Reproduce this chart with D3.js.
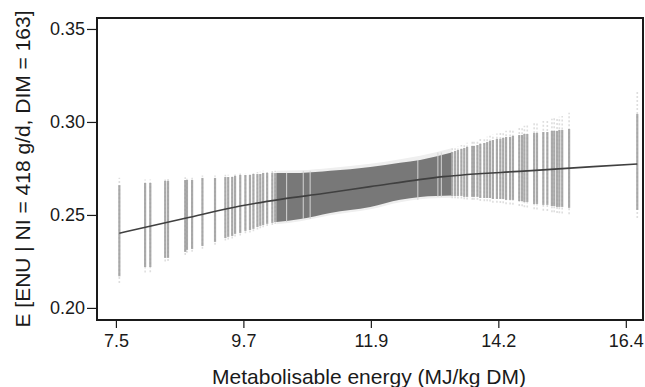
<!DOCTYPE html>
<html>
<head>
<meta charset="utf-8">
<script src="https://cdn.jsdelivr.net/npm/d3@7"></script>
<style>
  html, body { margin: 0; padding: 0; background: #fff; }
  svg { display: block; }
  text { font-family: "Liberation Sans", Arial, Helvetica, sans-serif; fill: #1a1a1a; }
</style>
</head>
<body>
<svg id="chart" width="645" height="387"></svg>
<script>
// ---- data ----
const xTickValues = [7.5, 9.725, 11.95, 14.175, 16.4];
const xTickLabels = ["7.5", "9.7", "11.9", "14.2", "16.4"];
const yTickValues = [0.20, 0.25, 0.30, 0.35];
const yTickLabels = ["0.20", "0.25", "0.30", "0.35"];

// individual interval bars: metabolisable energy, lower E, upper E (solid part)
const barME = [7.56, 8.01, 8.10, 8.36, 8.41, 8.71, 8.74, 8.83, 9.01, 9.23, 9.41, 9.46, 9.53, 9.58,
  9.67, 9.76, 9.84, 9.90, 9.97, 10.02, 10.07, 10.14, 10.23, 10.28,
  13.37, 13.42, 13.47, 13.53, 13.58, 13.63, 13.72, 13.75, 13.81, 13.86, 13.93, 13.98, 14.03,
  14.08, 14.15, 14.21, 14.26, 14.31, 14.38, 14.43, 14.54, 14.59, 14.63, 14.68, 14.80, 14.85,
  14.96, 15.03, 15.11, 15.15, 15.20, 15.24, 15.29, 15.41, 16.60];
const barLo = [0.2170, 0.2220, 0.2220, 0.2269, 0.2269, 0.2301, 0.2312, 0.2317, 0.2333, 0.2355, 0.2376, 0.2382, 0.2387, 0.2398,
  0.2403, 0.2414, 0.2419, 0.2425, 0.2435, 0.2441, 0.2446, 0.2452, 0.2457, 0.2462,
  0.2602, 0.2602, 0.2602, 0.2602, 0.2597, 0.2597, 0.2597, 0.2597, 0.2597, 0.2591, 0.2591, 0.2591, 0.2591,
  0.2586, 0.2586, 0.2586, 0.2586, 0.2581, 0.2581, 0.2581, 0.2575, 0.2575, 0.2570, 0.2570, 0.2559, 0.2559,
  0.2554, 0.2554, 0.2548, 0.2548, 0.2543, 0.2543, 0.2543, 0.2538, 0.2527];
const barHi = [0.2660, 0.2672, 0.2672, 0.2683, 0.2683, 0.2688, 0.2688, 0.2688, 0.2699, 0.2699, 0.2704, 0.2704, 0.2704, 0.2710,
  0.2715, 0.2715, 0.2715, 0.2720, 0.2720, 0.2720, 0.2726, 0.2726, 0.2726, 0.2726,
  0.2839, 0.2844, 0.2849, 0.2855, 0.2860, 0.2866, 0.2871, 0.2871, 0.2876, 0.2882, 0.2887, 0.2892, 0.2898,
  0.2903, 0.2909, 0.2909, 0.2914, 0.2919, 0.2919, 0.2925, 0.2930, 0.2930, 0.2935, 0.2935, 0.2941, 0.2941,
  0.2946, 0.2946, 0.2952, 0.2952, 0.2952, 0.2957, 0.2957, 0.2962, 0.3043];
// faint outer tails of the same bars
const barOuterLo = [0.2134, 0.2190, 0.2192, 0.2250, 0.2252, 0.2285, 0.2296, 0.2302, 0.2318, 0.2340, 0.2362, 0.2368, 0.2373, 0.2384,
  0.2390, 0.2401, 0.2406, 0.2412, 0.2422, 0.2428, 0.2434, 0.2440, 0.2446, 0.2451,
  0.2590, 0.2590, 0.2589, 0.2589, 0.2584, 0.2583, 0.2582, 0.2582, 0.2581, 0.2575, 0.2574, 0.2573, 0.2572,
  0.2566, 0.2565, 0.2564, 0.2563, 0.2557, 0.2556, 0.2555, 0.2548, 0.2547, 0.2541, 0.2540, 0.2530, 0.2529,
  0.2522, 0.2521, 0.2515, 0.2514, 0.2510, 0.2509, 0.2508, 0.2503, 0.2484];
const barOuterHi = [0.2700, 0.2690, 0.2690, 0.2700, 0.2700, 0.2703, 0.2703, 0.2703, 0.2712, 0.2712, 0.2716, 0.2716, 0.2716, 0.2722,
  0.2726, 0.2726, 0.2727, 0.2731, 0.2731, 0.2732, 0.2737, 0.2737, 0.2738, 0.2738,
  0.2860, 0.2865, 0.2870, 0.2876, 0.2882, 0.2888, 0.2895, 0.2897, 0.2903, 0.2909, 0.2915, 0.2920, 0.2926,
  0.2932, 0.2938, 0.2941, 0.2947, 0.2953, 0.2956, 0.2962, 0.2972, 0.2975, 0.2980, 0.2983, 0.2993, 0.2997,
  0.3005, 0.3010, 0.3017, 0.3020, 0.3024, 0.3028, 0.3032, 0.3050, 0.3172];

// densely overlapping intervals (dark band) envelope
const bandME = [10.30, 10.72, 11.24, 11.94, 12.46, 12.81, 13.36];
const bandLo = [0.2462, 0.2478, 0.2511, 0.2543, 0.2581, 0.2597, 0.2605];
const bandHi = [0.2726, 0.2726, 0.2737, 0.2758, 0.2780, 0.2796, 0.2836];
const bandOuterLo = [0.2450, 0.2466, 0.2498, 0.2530, 0.2568, 0.2584, 0.2592];
const bandOuterHi = [0.2738, 0.2740, 0.2752, 0.2775, 0.2800, 0.2818, 0.2858];
// thin gaps between intervals inside the band
const gapME = [10.48, 10.77, 10.89, 12.77, 13.12, 13.18];

// posterior mean curve
const curveME = [7.56, 8.71, 9.67, 10.40, 11.12, 11.94, 13.21, 14.68, 15.83, 16.60];
const curveE  = [0.2402, 0.2482, 0.2548, 0.2585, 0.2615, 0.2652, 0.2706, 0.2737, 0.2760, 0.2774];

const xTitle = "Metabolisable energy (MJ/kg DM)";
const yTitle = "E [ENU | NI = 418 g/d, DIM = 163]";

// ---- layout ----
const svg = d3.select("#chart");
const L = 97, R = 643, T = 18, B = 320;
const x = d3.scaleLinear().domain([7.17, 16.70]).range([L, R]);
const y = d3.scaleLinear().domain([0.1935, 0.3559]).range([B, T]);

const plot = svg.append("g");

const bandData = bandME.map((m, i) => ({ m, lo: bandLo[i], hi: bandHi[i], olo: bandOuterLo[i], ohi: bandOuterHi[i] }));
const bars = barME.map((m, i) => ({ m, lo: barLo[i], hi: barHi[i], olo: barOuterLo[i], ohi: barOuterHi[i] }));

// faint outer fringe of the band
plot.append("path")
  .datum(bandData)
  .attr("fill", "#efefef")
  .attr("d", d3.area().x(d => x(d.m)).y0(d => y(d.olo)).y1(d => y(d.ohi)).curve(d3.curveMonotoneX));

// faint bar tails
plot.selectAll("line.tail").data(bars).join("line")
  .attr("class", "tail")
  .attr("x1", d => x(d.m)).attr("x2", d => x(d.m))
  .attr("y1", d => y(d.olo)).attr("y2", d => y(d.ohi))
  .attr("stroke", "#d6d6d6").attr("stroke-width", 1.6)
  .attr("stroke-dasharray", "2,2").attr("stroke-opacity", 0.8);

// dense band
plot.append("path")
  .datum(bandData)
  .attr("fill", "#787878")
  .attr("d", d3.area().x(d => x(d.m)).y0(d => y(d.lo)).y1(d => y(d.hi)).curve(d3.curveMonotoneX));

// gaps
plot.selectAll("line.gap").data(gapME).join("line")
  .attr("class", "gap")
  .attr("x1", d => x(d)).attr("x2", d => x(d))
  .attr("y1", d => {
    const i = d3.bisectLeft(bandME, d);
    return y(bandHi[Math.min(i, bandHi.length - 1)]);
  })
  .attr("y2", d => {
    const i = d3.bisectLeft(bandME, d);
    return y(bandLo[Math.max(i - 1, 0)]);
  })
  .attr("stroke", "#d4d4d4").attr("stroke-width", 1);

// bars (solid part)
plot.selectAll("line.bar").data(bars).join("line")
  .attr("class", "bar")
  .attr("x1", d => x(d.m)).attr("x2", d => x(d.m))
  .attr("y1", d => y(d.lo)).attr("y2", d => y(d.hi))
  .attr("stroke", "#9c9c9c").attr("stroke-width", 2.2).attr("stroke-opacity", 0.85);

// curve
const curveData = curveME.map((m, i) => ({ m, e: curveE[i] }));
plot.append("path")
  .datum(curveData)
  .attr("fill", "none")
  .attr("stroke", "#404040")
  .attr("stroke-width", 1.6)
  .attr("d", d3.line().x(d => x(d.m)).y(d => y(d.e)).curve(d3.curveMonotoneX));

// frame
svg.append("rect")
  .attr("x", L).attr("y", T).attr("width", R - L).attr("height", B - T)
  .attr("fill", "none").attr("stroke", "#1a1a1a").attr("stroke-width", 2);

// axes
const xAxis = d3.axisBottom(x).tickValues(xTickValues)
  .tickFormat((d, i) => xTickLabels[i]).tickSize(7).tickPadding(6);
const gx = svg.append("g").attr("transform", `translate(0,${B + 1})`).call(xAxis);
gx.select(".domain").remove();
gx.selectAll("line").attr("stroke", "#1a1a1a").attr("stroke-width", 1.2);
gx.selectAll("text").attr("font-size", 18).attr("fill", "#1a1a1a");

const yAxis = d3.axisLeft(y).tickValues(yTickValues)
  .tickFormat((d, i) => yTickLabels[i]).tickSize(9).tickPadding(2);
const gy = svg.append("g").attr("transform", `translate(${L - 1},0)`).call(yAxis);
gy.select(".domain").remove();
gy.selectAll("line").attr("stroke", "#1a1a1a").attr("stroke-width", 1.2);
gy.selectAll("text").attr("font-size", 18).attr("fill", "#1a1a1a");

// titles
svg.append("text")
  .attr("x", 369).attr("y", 384)
  .attr("text-anchor", "middle")
  .attr("font-size", 21)
  .text(xTitle);

svg.append("text")
  .attr("transform", "translate(30,169) rotate(-90)")
  .attr("text-anchor", "middle")
  .attr("font-size", 21)
  .text(yTitle);
</script>
</body>
</html>
